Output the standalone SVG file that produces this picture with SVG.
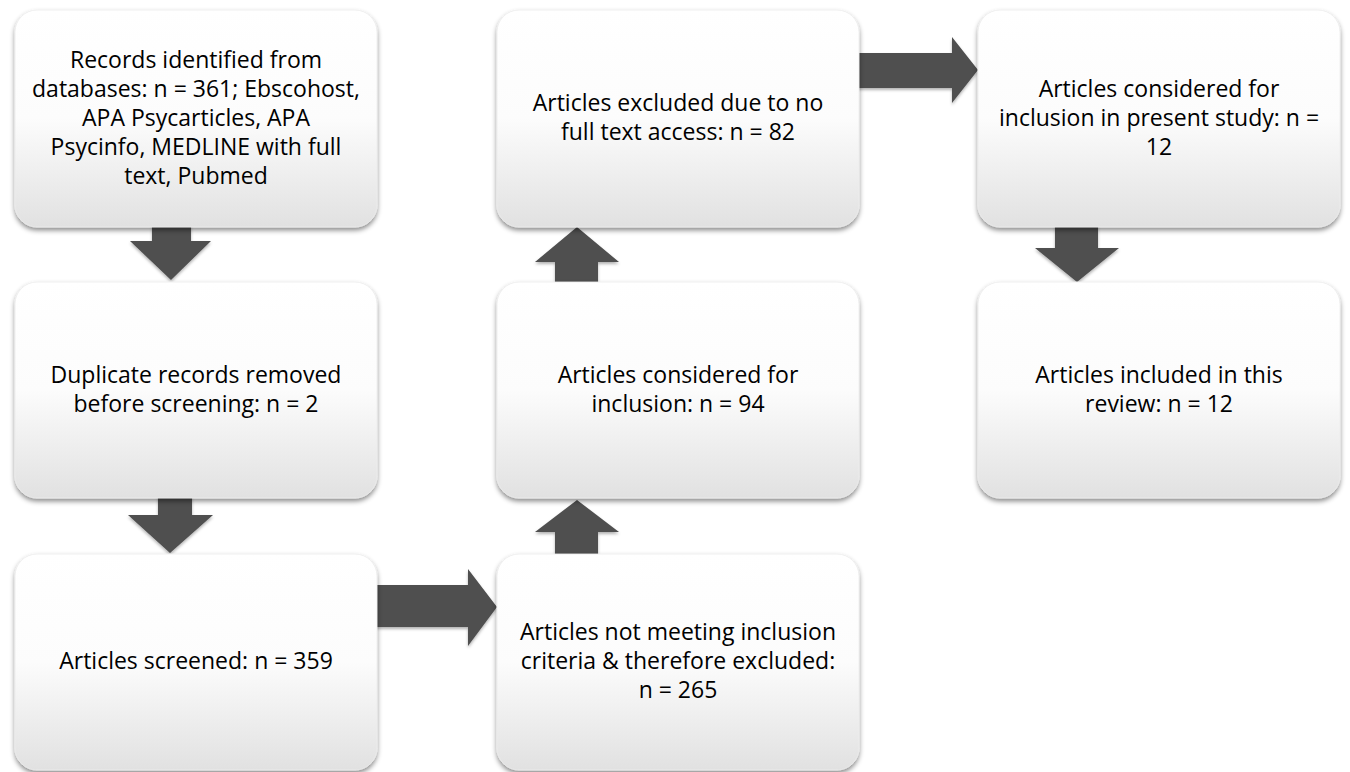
<svg xmlns="http://www.w3.org/2000/svg" width="1350" height="772" viewBox="0 0 1350 772">
<defs>
<linearGradient id="boxGrad" x1="0" y1="0" x2="0" y2="1">
<stop offset="0" stop-color="#ffffff"/>
<stop offset="0.5" stop-color="#fcfcfc"/>
<stop offset="1" stop-color="#e1e1e1"/>
</linearGradient>
<filter id="shadow" x="-10%" y="-10%" width="120%" height="125%">
<feDropShadow dx="0" dy="3" stdDeviation="2.5" flood-color="#000" flood-opacity="0.45"/>
</filter>
<filter id="ashadow" x="-20%" y="-20%" width="140%" height="140%">
<feDropShadow dx="0" dy="2" stdDeviation="1.5" flood-color="#000" flood-opacity="0.3"/>
</filter>
<style>
.box{fill:url(#boxGrad);stroke:#ececec;stroke-width:0.8;filter:url(#shadow);}
.arrow{fill:#4f4f4f;filter:url(#ashadow);}
.lbl{font-family:"Open Sans","Liberation Sans",sans-serif;font-size:23px;fill:#000;text-anchor:middle;}
</style>
</defs>
<rect width="1350" height="772" fill="#ffffff"/>
<g id="connectors">
<polygon class="arrow" points="152,222 191,222 191,241 211,241 171,280 130,241 152,241"/>
<polygon class="arrow" points="158,494 192,494 192,515 213,515 170,553 128,515 158,515"/>
<polygon class="arrow" points="372,585 468,585 468,569 497,607 468,646 468,627 372,627"/>
<polygon class="arrow" points="555,558 598,558 598,532 619,532 577,500 535,532 555,532"/>
<polygon class="arrow" points="555,286 598,286 598,262 619,262 577,227 535,262 555,262"/>
<polygon class="arrow" points="854,53 952,53 952,37 978,70 952,103 952,88 854,88"/>
<polygon class="arrow" points="1055,222 1098,222 1098,248 1119,248 1077,282 1035,248 1055,248"/>
</g>
<g id="n1">
<rect class="box" x="15" y="10" width="362" height="217" rx="22"/>
<text class="lbl"><tspan x="196" y="67.5">Records identified from</tspan><tspan x="196" y="96.5">databases: n = 361; Ebscohost,</tspan><tspan x="196" y="125.5">APA Psycarticles, APA</tspan><tspan x="196" y="154.5">Psycinfo, MEDLINE with full</tspan><tspan x="196" y="183.5">text, Pubmed</tspan></text>
</g>
<g id="n2">
<rect class="box" x="15" y="282" width="362" height="216" rx="22"/>
<text class="lbl"><tspan x="196" y="382.5">Duplicate records removed</tspan><tspan x="196" y="411.5">before screening: n = 2</tspan></text>
</g>
<g id="n3">
<rect class="box" x="15" y="554" width="362" height="216" rx="22"/>
<text class="lbl"><tspan x="196" y="669">Articles screened: n = 359</tspan></text>
</g>
<g id="n4">
<rect class="box" x="497" y="10" width="362" height="217" rx="22"/>
<text class="lbl"><tspan x="678" y="111">Articles excluded due to no</tspan><tspan x="678" y="140">full text access: n = 82</tspan></text>
</g>
<g id="n5">
<rect class="box" x="497" y="282" width="362" height="216" rx="22"/>
<text class="lbl"><tspan x="678" y="382.5">Articles considered for</tspan><tspan x="678" y="411.5">inclusion: n = 94</tspan></text>
</g>
<g id="n6">
<rect class="box" x="497" y="554" width="362" height="216" rx="22"/>
<text class="lbl"><tspan x="678" y="640">Articles not meeting inclusion</tspan><tspan x="678" y="669">criteria &amp; therefore excluded:</tspan><tspan x="678" y="698">n = 265</tspan></text>
</g>
<g id="n7">
<rect class="box" x="978" y="10" width="362" height="217" rx="22"/>
<text class="lbl"><tspan x="1159" y="96.5">Articles considered for</tspan><tspan x="1159" y="125.5">inclusion in present study: n =</tspan><tspan x="1159" y="154.5">12</tspan></text>
</g>
<g id="n8">
<rect class="box" x="978" y="282" width="362" height="216" rx="22"/>
<text class="lbl"><tspan x="1159" y="382.5">Articles included in this</tspan><tspan x="1159" y="411.5">review: n = 12</tspan></text>
</g>
</svg>
